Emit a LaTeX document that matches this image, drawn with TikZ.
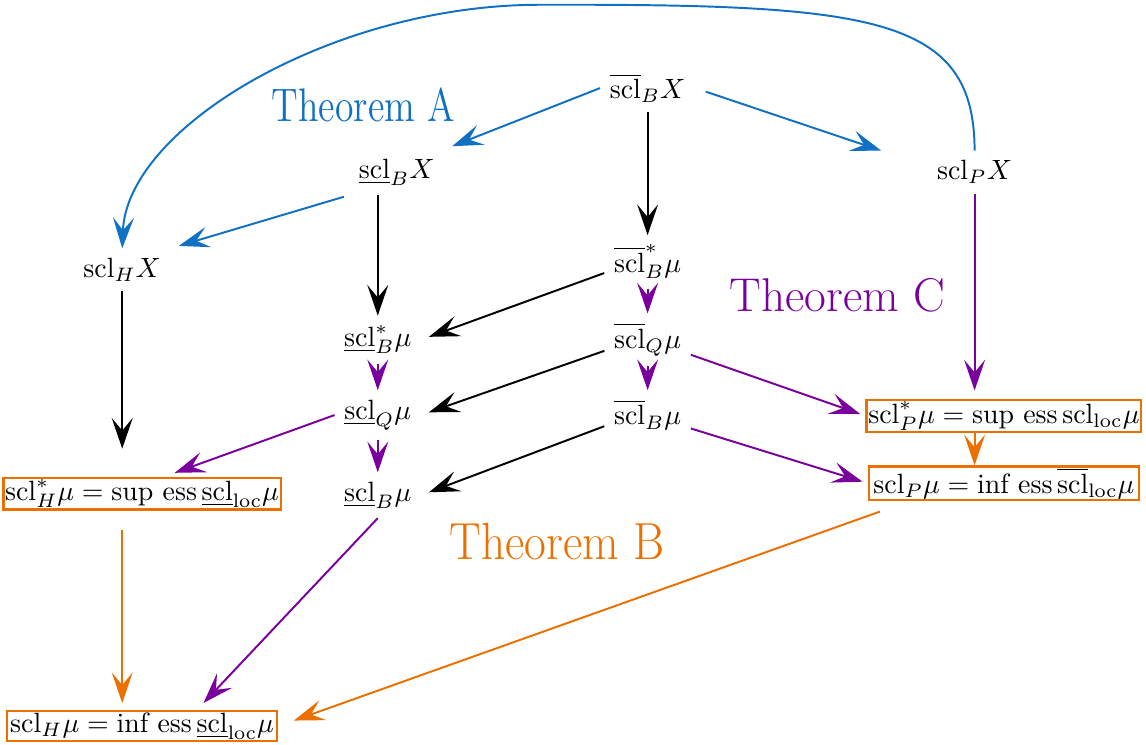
\documentclass[tikz,border=0pt]{standalone}
\usepackage{amsmath}
\usepackage{graphicx}
\usepackage{tikz}
\usetikzlibrary{arrows.meta,positioning,calc}

\definecolor{thmblue}{RGB}{16,112,196}
\definecolor{thmorange}{RGB}{236,112,0}
\definecolor{thmpurple}{RGB}{122,0,158}

\newcommand{\sclover}{\overline{\mathrm{scl}}}
\newcommand{\sclunder}{\underline{\mathrm{scl}}}
\newcommand{\sclplain}{\mathrm{scl}}

\begin{document}
\begin{tikzpicture}[
        quantity/.style={inner sep=3.3pt},
        bound/.style={rectangle, draw=thmorange, line width=0.8pt, fill=white, inner sep=0.6pt, minimum width=3.4cm, minimum height=0.36cm},
        thm/.style={font=\fontsize{17}{20}\selectfont},
        arrow/.style={-{Stealth[length=11pt, width=7.5pt, inset=4.5pt]}, line width=0.7pt, draw=black},
        bluearrow/.style={arrow, draw=thmblue},
        purplearrow/.style={arrow, draw=thmpurple},
        orangearrow/.style={arrow, draw=thmorange},
    ]

        \useasboundingbox (0, 0) rectangle (14.44, -9.386);

        \node[quantity] (bBX) at (8.16, -1.11) {$\sclover_B X$};
        \node[quantity] (uBX) at (5.00, -2.17) {$\sclunder_B X$};
        \node[quantity] (PX) at (12.28, -2.17) {$\sclplain_P X$};
        \node[quantity] (HX) at (1.54, -3.40) {$\sclplain_H X$};
        \node[quantity] (bBsm) at (8.16, -3.30) {$\sclover^*_B \mu$};
        \node[quantity] (uBsm) at (4.76, -4.28) {$\sclunder^*_B \mu$};
        \node[quantity] (bQm) at (8.16, -4.28) {$\sclover_Q \mu$};
        \node[quantity] (uQm) at (4.76, -5.23) {$\sclunder_Q \mu$};
        \node[quantity] (bBm) at (8.16, -5.23) {$\sclover_B \mu$};
        \node[quantity] (uBm) at (4.76, -6.24) {$\sclunder_B \mu$};

        \node[bound] (boxHs) at (1.79, -6.22) {$\sclplain^*_H \mu = \text{sup ess}\, \sclunder_{\mathrm{loc}} \mu$};
        \node[bound] (boxPs) at (12.65, -5.24) {$\sclplain^*_P \mu = \text{sup ess}\, \sclplain_{\mathrm{loc}} \mu$};
        \node[bound] (boxP) at (12.65, -6.09) {$\sclplain_P \mu = \text{inf ess}\, \sclover_{\mathrm{loc}} \mu$};
        \node[bound] (boxH) at (1.79, -9.15) {$\sclplain_H \mu = \text{inf ess}\, \sclunder_{\mathrm{loc}} \mu$};

        \node[text=thmblue, font=\fontsize{13.5}{16}\selectfont] (thmA) at (4.58, -1.32) {\scalebox{1}[1.25]{Theorem A}};
        \node[thm, text=thmorange] (thmB) at (7.02, -6.83) {\scalebox{1}[1.1]{Theorem B}};
        \node[thm, text=thmpurple] (thmC) at (10.55, -3.72) {Theorem C};

        % Theorem A
        \draw[bluearrow, shorten >=3pt] (bBX.west) -- (uBX.north east);
        \draw[bluearrow, shorten <=4pt] (bBX.east) -- ([xshift=-0.58cm]PX.north west);
        \draw[bluearrow, shorten <=2pt, shorten >=3pt] (uBX.south west) -- (HX.north east);
        \draw[bluearrow] (PX.north) .. controls (12.28, -0.2) and (11.0, -0.05) .. (6.8, -0.06) .. controls (4.2, -0.06) and (1.6, -1.6) .. (HX.north);

        \draw[arrow] (bBX) -- (bBsm);
        \draw[arrow] (uBX.south -| uBsm) -- (uBsm);
        \draw[arrow, shorten >=10pt] (HX) -- (boxHs.north -| HX);
        \draw[arrow, shorten >=3pt] ([yshift=-4pt]bBsm.west) -- (uBsm.east);
        \draw[arrow, shorten >=3pt] ([yshift=-4pt]bQm.west) -- (uQm.east);
        \draw[arrow, shorten >=3pt] ([yshift=-4pt]bBm.west) -- (uBm.east);

        % Theorem C
        \draw[purplearrow] (bBsm) -- (bQm);
        \draw[purplearrow] (bQm) -- (bBm);
        \draw[purplearrow] (uBsm) -- (uQm);
        \draw[purplearrow] (uQm) -- (uBm);
        \draw[purplearrow, shorten >=4pt] (uQm.west) -- ([xshift=0.28cm]boxHs.north);
        \draw[purplearrow, shorten >=2pt] (bQm) -- (boxPs.west);
        \draw[purplearrow, shorten >=2pt] (bBm) -- (boxP.west);
        \draw[purplearrow, shorten >=3.5pt] (uBm.south) -- ([xshift=0.69cm]boxH.north);
        \draw[purplearrow, shorten >=3pt] (PX) -- (boxPs.north -| PX);

        % Theorem B
        \draw[orangearrow] (boxPs.south -| PX) -- (boxP.north -| PX);
        \draw[orangearrow, shorten <=7pt, shorten >=2.5pt] (boxHs.south -| HX) -- (boxH.north -| HX);
        \draw[orangearrow, shorten <=11pt, shorten >=6pt] ([xshift=-1.2cm]boxP.south) -- (boxH.east);

    \end{tikzpicture}
\end{document}
